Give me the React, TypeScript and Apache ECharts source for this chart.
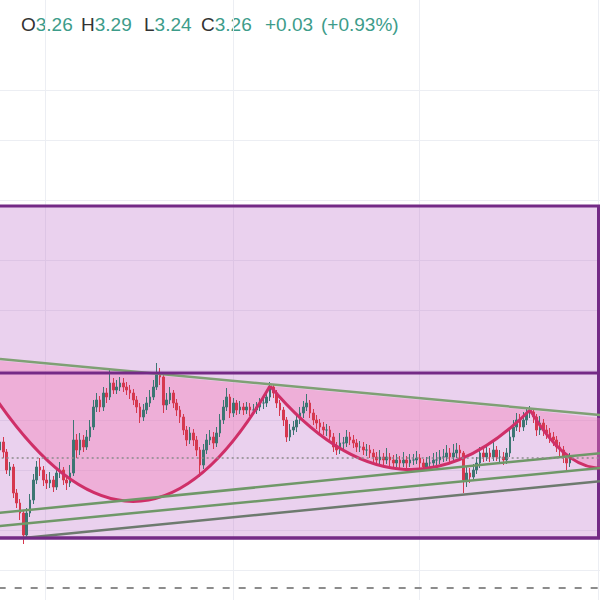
import React, { useEffect, useRef } from "react";
import * as echarts from "echarts";

// ---- Price data (one candle per index, x axis = bar index) ----
const firstOpen = 3.27;
const closes = [
  3.278, 3.268, 3.25, 3.253, 3.227, 3.217, 3.207, 3.185, 3.207, 3.22,
  3.24, 3.253, 3.25, 3.24, 3.237, 3.24, 3.233, 3.247, 3.25, 3.24,
  3.237, 3.247, 3.28, 3.27, 3.28, 3.273, 3.283, 3.293, 3.313, 3.32,
  3.313, 3.327, 3.323, 3.337, 3.33, 3.333, 3.337, 3.333, 3.33, 3.327,
  3.32, 3.313, 3.303, 3.31, 3.317, 3.323, 3.333, 3.345, 3.343, 3.315,
  3.32, 3.327, 3.317, 3.31, 3.303, 3.29, 3.28, 3.287, 3.28, 3.27,
  3.255, 3.27, 3.28, 3.283, 3.277, 3.287, 3.3, 3.313, 3.323, 3.307,
  3.317, 3.31, 3.313, 3.31, 3.313, 3.31, 3.31, 3.313, 3.317, 3.317,
  3.323, 3.333, 3.327, 3.317, 3.31, 3.3, 3.283, 3.29, 3.293, 3.3,
  3.307, 3.313, 3.317, 3.307, 3.3, 3.297, 3.293, 3.29, 3.29, 3.283,
  3.273, 3.27, 3.277, 3.277, 3.283, 3.28, 3.277, 3.273, 3.273, 3.27,
  3.27, 3.267, 3.263, 3.26, 3.263, 3.26, 3.263, 3.26, 3.257, 3.26,
  3.257, 3.26, 3.257, 3.26, 3.26, 3.262, 3.257, 3.253, 3.257, 3.257,
  3.26, 3.26, 3.263, 3.263, 3.267, 3.263, 3.267, 3.27, 3.267, 3.24,
  3.247, 3.243, 3.25, 3.257, 3.267, 3.263, 3.267, 3.263, 3.27, 3.263,
  3.263, 3.26, 3.267, 3.283, 3.293, 3.3, 3.293, 3.3, 3.307, 3.308,
  3.303, 3.29, 3.297, 3.29, 3.287, 3.283, 3.28, 3.273, 3.27, 3.263,
  3.257, 3.262,
];
const highs = [
  3.284, 3.283, 3.271, 3.258, 3.256, 3.231, 3.221, 3.21, 3.212, 3.226,
  3.246, 3.259, 3.262, 3.254, 3.246, 3.248, 3.244, 3.252, 3.258, 3.253,
  3.245, 3.255, 3.3, 3.286, 3.287, 3.285, 3.29, 3.3, 3.32, 3.327,
  3.324, 3.333, 3.332, 3.35, 3.342, 3.34, 3.343, 3.342, 3.338, 3.335,
  3.331, 3.324, 3.317, 3.316, 3.323, 3.33, 3.34, 3.357, 3.352, 3.346,
  3.327, 3.333, 3.33, 3.321, 3.314, 3.306, 3.294, 3.293, 3.291, 3.284,
  3.273, 3.276, 3.286, 3.29, 3.288, 3.293, 3.306, 3.32, 3.332, 3.326,
  3.322, 3.32, 3.319, 3.317, 3.318, 3.317, 3.316, 3.318, 3.322, 3.323,
  3.328, 3.338, 3.336, 3.33, 3.32, 3.313, 3.303, 3.296, 3.299, 3.306,
  3.313, 3.319, 3.326, 3.32, 3.311, 3.305, 3.301, 3.298, 3.296, 3.294,
  3.287, 3.278, 3.287, 3.283, 3.29, 3.288, 3.285, 3.281, 3.279, 3.278,
  3.276, 3.275, 3.271, 3.268, 3.27, 3.267, 3.272, 3.267, 3.265, 3.266,
  3.264, 3.268, 3.264, 3.266, 3.266, 3.269, 3.266, 3.261, 3.263, 3.264,
  3.267, 3.268, 3.27, 3.271, 3.275, 3.272, 3.276, 3.277, 3.275, 3.269,
  3.253, 3.252, 3.256, 3.263, 3.273, 3.271, 3.274, 3.272, 3.278, 3.274,
  3.27, 3.268, 3.272, 3.29, 3.3, 3.307, 3.306, 3.308, 3.312, 3.314,
  3.312, 3.306, 3.304, 3.301, 3.295, 3.292, 3.288, 3.284, 3.278, 3.274,
  3.266, 3.267,
];
const lows = [
  3.266, 3.262, 3.246, 3.244, 3.222, 3.212, 3.2, 3.176, 3.181, 3.203,
  3.216, 3.236, 3.244, 3.234, 3.231, 3.232, 3.228, 3.23, 3.242, 3.235,
  3.23, 3.233, 3.244, 3.262, 3.265, 3.268, 3.27, 3.279, 3.29, 3.308,
  3.308, 3.309, 3.317, 3.32, 3.326, 3.326, 3.329, 3.328, 3.325, 3.321,
  3.315, 3.307, 3.297, 3.299, 3.306, 3.313, 3.32, 3.33, 3.335, 3.307,
  3.31, 3.316, 3.312, 3.304, 3.297, 3.285, 3.274, 3.276, 3.274, 3.264,
  3.243, 3.251, 3.266, 3.275, 3.271, 3.273, 3.283, 3.296, 3.309, 3.302,
  3.303, 3.305, 3.306, 3.305, 3.306, 3.304, 3.305, 3.306, 3.309, 3.311,
  3.313, 3.319, 3.322, 3.312, 3.304, 3.294, 3.278, 3.279, 3.285, 3.288,
  3.296, 3.302, 3.309, 3.302, 3.295, 3.291, 3.287, 3.285, 3.284, 3.278,
  3.268, 3.265, 3.266, 3.271, 3.273, 3.275, 3.272, 3.268, 3.268, 3.265,
  3.264, 3.262, 3.258, 3.255, 3.256, 3.255, 3.256, 3.254, 3.252, 3.253,
  3.252, 3.253, 3.252, 3.253, 3.255, 3.256, 3.252, 3.249, 3.25, 3.252,
  3.253, 3.255, 3.256, 3.258, 3.259, 3.258, 3.259, 3.262, 3.261, 3.227,
  3.233, 3.237, 3.239, 3.246, 3.252, 3.258, 3.259, 3.258, 3.259, 3.259,
  3.258, 3.255, 3.256, 3.263, 3.279, 3.289, 3.288, 3.289, 3.295, 3.302,
  3.297, 3.284, 3.285, 3.284, 3.281, 3.277, 3.274, 3.268, 3.264, 3.257,
  3.25, 3.253,
];

// ---- Drawings (bar index, price) ----
// rectangles: [x0, top price, x1, bottom price]
const outerRect = [-10, 3.514, 179.55, 3.182];
const innerRect = [-10, 3.347, 200, 3.182];
// arcs: quadratic curves [startX, startP, ctrlX, ctrlP, endX, endP]
const arcs = [
  [-9, 3.362, 39, 3.09, 81, 3.334],
  [81, 3.334, 120, 3.18, 159, 3.31],
  [159, 3.31, 178.5, 3.202, 198, 3.295],
];
// trend lines: [x0, p0, x1, p1]
const resistanceLine = [0, 3.361, 180, 3.305];
const supportLines = [
  [-5, 3.2055, 185, 3.2685],
  [-5, 3.1925, 185, 3.2535],
];
const lowerLine = [7, 3.182, 185, 3.2405];
const lastPrice = 3.262;
const dashedLevel = 3.132;
const gridPrices = [3.63, 3.575, 3.52, 3.465, 3.41, 3.355, 3.3, 3.245, 3.19, 3.149];
const gridBars = [13.5, 69.9, 125.7, 179.6];

// ---- Header ----
const headerLetters = ["O", "H", "L", "C"];
const headerValues = ["3.26", "3.29", "3.24", "3.26"];
const headerChange = "+0.03";
const headerPct = "(+0.93%)";

export default function App() {
  const ref = useRef<HTMLDivElement>(null);

  useEffect(() => {
    if (!ref.current) return;
    const chart = echarts.init(ref.current, null, { renderer: "svg" });

    const candleData = closes.map((c, i) => [
      i,
      i === 0 ? firstOpen : closes[i - 1],
      c,
      lows[i],
      highs[i],
    ]);

    const seg = (l: number[]) => [
      [l[0], l[1]],
      [l[2], l[3]],
    ];

    const lineSeries = (l: number[], color: string, width: number, z: number, type: any = "solid") => ({
      type: "line",
      data: seg(l),
      showSymbol: false,
      symbol: "none",
      silent: true,
      z,
      lineStyle: { color, width, type },
      clip: true,
    });

    const rectSeries = (r: number[], fill: string, z: number) => ({
      type: "custom",
      data: [r],
      z,
      silent: true,
      clip: true,
      encode: { x: [0, 2], y: [1, 3] },
      renderItem: (params: any, api: any) => {
        const p0 = api.coord([api.value(0), api.value(1)]);
        const p1 = api.coord([api.value(2), api.value(3)]);
        return {
          type: "rect",
          shape: { x: p0[0], y: p0[1], width: p1[0] - p0[0], height: p1[1] - p0[1] },
          style: { fill, stroke: "#742a86", lineWidth: 3 },
        };
      },
    });

    const font = "Liberation Sans, Arial, sans-serif";
    const headerX = [21, 81, 144, 201];
    const graphics: any[] = headerLetters.map((l, i) => ({
      type: "text",
      x: headerX[i],
      y: 24,
      style: {
        text: `{l|${l}}{v|${headerValues[i]}}`,
        verticalAlign: "middle",
        rich: {
          l: { fontSize: 19, fontFamily: font, fill: "#333333" },
          v: { fontSize: 19, fontFamily: font, fill: "#3d9c8a" },
        },
      },
    }));
    graphics.push({
      type: "text",
      x: 265,
      y: 24,
      style: { text: headerChange, verticalAlign: "middle", fontSize: 19, fontFamily: font, fill: "#3d9c8a" },
    });
    graphics.push({
      type: "text",
      x: 321,
      y: 24,
      style: { text: headerPct, verticalAlign: "middle", fontSize: 19, fontFamily: font, fill: "#3d9c8a" },
    });

    chart.setOption({
      animation: false,
      backgroundColor: "#ffffff",
      grid: { left: 0, right: 0, top: 0, bottom: 0 },
      xAxis: { type: "value", min: 0, max: 180, show: false, splitLine: { show: false } },
      yAxis: { type: "value", min: 3.12, max: 3.72, show: false, splitLine: { show: false } },
      graphic: graphics,
      series: [
        {
          type: "line",
          data: [],
          z: 1,
          silent: true,
          markLine: {
            z: 1,
            silent: true,
            symbol: "none",
            label: { show: false },
            lineStyle: { color: "#eceef3", width: 1, type: "solid" },
            data: [
              ...gridPrices.map((p) => ({ yAxis: p })),
              ...gridBars.map((b) => ({ xAxis: b })),
            ],
          },
        },
        rectSeries(outerRect, "rgba(186,104,200,0.3)", 2),
        rectSeries(innerRect, "rgba(0,0,0,0)", 6),
        {
          type: "custom",
          data: arcs,
          z: 3,
          silent: true,
          clip: true,
          encode: { x: [0, 2, 4], y: [1, 3, 5] },
          renderItem: (params: any, api: any) => {
            const a = api.coord([api.value(0), api.value(1)]);
            const c = api.coord([api.value(2), api.value(3)]);
            const b = api.coord([api.value(4), api.value(5)]);
            return {
              type: "bezierCurve",
              shape: { x1: a[0], y1: a[1], x2: b[0], y2: b[1], cpx1: c[0], cpy1: c[1] },
              style: { fill: "rgba(245,125,182,0.4)", stroke: null },
            };
          },
        },
        {
          type: "candlestick",
          data: candleData,
          encode: { x: 0, y: [1, 2, 3, 4] },
          barWidth: 2,
          z: 4,
          silent: true,
          itemStyle: {
            color: "#3d7673",
            color0: "#d6384f",
            borderColor: "#3d7673",
            borderColor0: "#d6384f",
            borderWidth: 1,
          },
        },
        {
          type: "custom",
          data: arcs,
          z: 5,
          silent: true,
          clip: true,
          encode: { x: [0, 2, 4], y: [1, 3, 5] },
          renderItem: (params: any, api: any) => {
            const a = api.coord([api.value(0), api.value(1)]);
            const c = api.coord([api.value(2), api.value(3)]);
            const b = api.coord([api.value(4), api.value(5)]);
            return {
              type: "bezierCurve",
              shape: { x1: a[0], y1: a[1], x2: b[0], y2: b[1], cpx1: c[0], cpy1: c[1] },
              style: { fill: null, stroke: "#cf2f68", lineWidth: 3 },
            };
          },
        },
        lineSeries(resistanceLine, "#7fa074", 2.5, 5),
        ...supportLines.map((l) => lineSeries(l, "#6f9868", 2.5, 5)),
        lineSeries(lowerLine, "#6d7a6e", 2.5, 5),
        lineSeries([-10, lastPrice, 200, lastPrice], "#8a8a8a", 1.5, 7, [2, 3]),
        lineSeries([-10, dashedLevel, 200, dashedLevel], "#8c8c8c", 2, 7, [7, 9]),
      ],
    });

    return () => chart.dispose();
  }, []);

  return <div ref={ref} style={{ position: "absolute", left: 0, top: 0, width: 600, height: 600 }} />;
}
